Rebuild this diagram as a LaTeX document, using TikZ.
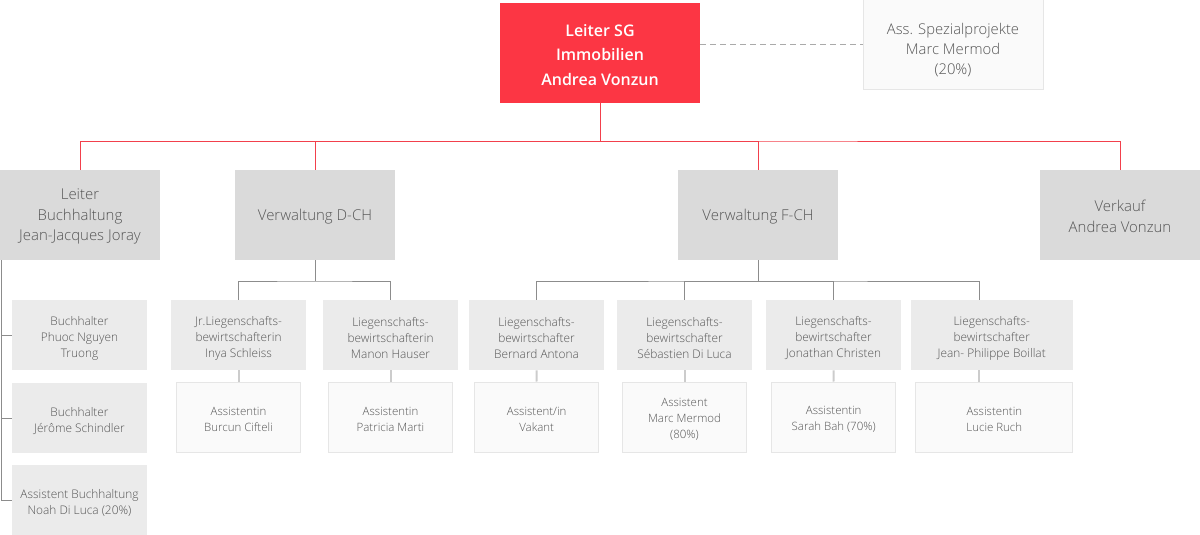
\documentclass[tikz,border=0pt]{standalone}
\usepackage{fontspec}
\setmainfont{Open Sans}[UprightFont={* Light},BoldFont={* Semibold}]
\usetikzlibrary{calc}
\definecolor{topred}{HTML}{FC3644}
\definecolor{redline}{HTML}{F2404C}
\definecolor{lvtwo}{HTML}{DADADA}
\definecolor{lvthree}{HTML}{EBEBEB}
\definecolor{lvfour}{HTML}{FAFAFA}
\definecolor{lvfourborder}{HTML}{E6E6E6}
\definecolor{txt}{HTML}{555555}
\definecolor{gline}{HTML}{8C8C8C}
\definecolor{lline}{HTML}{CCCCCC}
\definecolor{dline}{HTML}{AAAAAA}
\newcommand\lifttop{\rule{0pt}{12pt}}
\newcommand\liftass{\rule{0pt}{15.8pt}}
\newcommand\lifttwo{\rule{0pt}{10.8pt}}
\newcommand\liftthree{\rule{0pt}{11.2pt}}
\newcommand\liftfour{\rule{0pt}{9.6pt}}
\begin{document}
\begin{tikzpicture}[x=0.75pt,y=-0.75pt,
 box/.style={rectangle,inner sep=0pt,align=center,text=txt},
 topbox/.style={box,fill=topred,text=white,font=\fontsize{12}{18.5}\selectfont\bfseries,minimum width=150pt,minimum height=75pt},
 assbox/.style={box,fill=lvfour,draw=lvfourborder,line width=0.75pt,font=\fontsize{11.1}{15.2}\selectfont,minimum width=135pt,minimum height=67.5pt},
 lvtwobox/.style={box,fill=lvtwo,font=\fontsize{11.2}{15.4}\selectfont,minimum width=120pt,minimum height=67.5pt},
 lvthreebox/.style={box,fill=lvthree,font=\fontsize{8.9}{12}\selectfont,minimum width=101.25pt,minimum height=52.5pt},
 lvfourbox/.style={box,fill=lvfour,draw=lvfourborder,line width=0.75pt,font=\fontsize{8.6}{12.2}\selectfont,minimum width=93pt,minimum height=52.5pt},
 redconn/.style={draw=redline,line width=0.75pt},
 grayconn/.style={draw=gline,line width=0.75pt},
 lightconn/.style={draw=lline,line width=1.5pt},
 dashconn/.style={draw=dline,line width=0.75pt,dash pattern=on 4.5pt off 3pt}]
\useasboundingbox (0,0) rectangle (1200,535);

% top level
\node[topbox] (top) at (600,53) {\lifttop Leiter SG\\Immobilien\\Andrea Vonzun};
\node[assbox] (ass) at (953,45) {\liftass Ass. Spezialprojekte\\Marc Mermod\\(20\%)};

% level 2
\node[lvtwobox] (lb) at (80,215) {\lifttwo Leiter\\Buchhaltung\\Jean-Jacques Joray};
\node[lvtwobox] (vd) at (315,215) {\lifttwo Verwaltung D-CH};
\node[lvtwobox] (vf) at (758,215) {\lifttwo Verwaltung F-CH};
\node[lvtwobox] (vk) at (1120,215) {\lifttwo Verkauf\\Andrea Vonzun};

% level 3
\node[lvthreebox] (b1) at (79.5,335) {\liftthree Buchhalter\\Phuoc Nguyen\\Truong};
\node[lvthreebox] (b2) at (79.5,418) {\liftthree Buchhalter\\Jérôme Schindler};
\node[lvthreebox] (b3) at (79.5,500) {\liftthree Assistent Buchhaltung\\Noah Di Luca (20\%)};
\node[lvthreebox] (js) at (238.5,335) {\liftthree Jr.Liegenschafts-\\bewirtschafterin\\Inya Schleiss};
\node[lvthreebox] (mh) at (390.5,335) {\liftthree Liegenschafts-\\bewirtschafterin\\Manon Hauser};
\node[lvthreebox] (ba) at (536.5,335) {\liftthree Liegenschafts-\\bewirtschafter\\Bernard Antona};
\node[lvthreebox] (sd) at (684.5,335) {\liftthree Liegenschafts-\\bewirtschafter\\Sébastien Di Luca};
\node[lvthreebox] (jc) at (833.5,335) {\liftthree Liegenschafts-\\bewirtschafter\\Jonathan Christen};
\node[lvthreebox,minimum width=121.5pt] (jb) at (991.7,335) {\liftthree Liegenschafts-\\bewirtschafter\\Jean- Philippe Boillat};

% level 4
\node[lvfourbox] (bc) at (238.5,417) {\liftfour Assistentin\\Burcun Cifteli};
\node[lvfourbox] (pm) at (390.5,417) {\liftfour Assistentin\\Patricia Marti};
\node[lvfourbox] (va) at (536.7,417) {\liftfour Assistent/in\\Vakant};
\node[lvfourbox] (mm) at (684.5,417) {\liftfour Assistent\\Marc Mermod\\(80\%)};
\node[lvfourbox] (sb) at (833.7,417) {\liftfour Assistentin\\Sarah Bah (70\%)};
\node[lvfourbox,minimum width=117.75pt] (lr) at (994.3,417) {\liftfour Assistentin\\Lucie Ruch};

% red connectors
\coordinate (tj) at (600,141);
\draw[redconn] (top.south) -- (tj);
\draw[redconn] (lb.north) |- (tj) -| (vk.north);
\draw[redconn] (vd.north) |- (tj);
\draw[redconn] (vf.north) |- (tj);

% dashed
\draw[dashconn] (top.east |- ass.west) -- (ass.west);

% left column
\coordinate (lbx) at (1,260);
\draw[grayconn] (lbx) |- (b3.west);
\draw[grayconn] (lbx |- b1.west) -- (b1.west);
\draw[grayconn] (lbx |- b2.west) -- (b2.west);

% D-CH
\coordinate (vdj) at (315,281);
\draw[grayconn] (vd.south) -- (vdj);
\draw[grayconn] (js.north) |- (vdj) -| (mh.north);

% F-CH
\coordinate (vfj) at (758,281);
\coordinate (jbt) at (979,300);
\draw[grayconn] (vf.south) -- (vfj);
\draw[grayconn] (ba.north) |- (vfj) -| (jbt);
\draw[grayconn] (sd.north) |- (vfj);
\draw[grayconn] (jc.north) |- (vfj);

% level 3 -> 4
\draw[lightconn] (js.south) -- (bc.north);
\draw[lightconn] (mh.south) -- (pm.north);
\draw[lightconn] (ba.south) -- (va.north);
\draw[lightconn] (sd.south) -- (mm.north);
\draw[lightconn] (jc.south) -- (sb.north);
\draw[lightconn] (jb.south -| jbt) -- (lr.north -| jbt);
\end{tikzpicture}
\end{document}
